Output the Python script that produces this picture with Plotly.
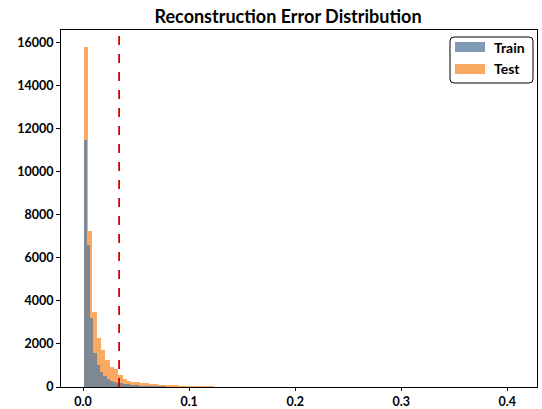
import plotly.graph_objects as go

# ---- data ----
test_bin_start = 0.0005
test_bin_width = 0.0041
test_counts = [15800, 7250, 3500, 2270, 1720, 1250, 950, 830, 560, 360,
               300, 230, 210, 200, 190, 150, 130, 110, 100, 90,
               80, 70, 60, 55, 50, 45, 40, 35, 30, 25,
               10, 8, 15, 4, 3, 2, 2, 1, 1, 1]

train_bin_start = 0.0005
train_bin_width = 0.0031
train_counts = [11500, 6600, 3200, 1600, 1000, 700, 500, 380, 300, 240,
                200, 170, 140, 120, 100, 85, 70, 60, 50, 45,
                40, 35, 30, 28, 25, 22, 20, 18, 16, 14,
                12, 10, 9, 8, 7, 6, 5, 5, 4, 4,
                3, 3, 2, 2, 2, 6, 1, 1, 1, 5]

threshold = 0.034
x_ticks = [0.0, 0.1, 0.2, 0.3, 0.4]
y_ticks = [0, 2000, 4000, 6000, 8000, 10000, 12000, 14000, 16000]
series_names = ["Train", "Test"]

def centers(start, width, n):
    return [start + width * (i + 0.5) for i in range(n)]

FONT = "Lato"
TRAIN_COLOR = "rgba(92,126,160,0.78)"
TEST_COLOR = "rgba(246,133,32,0.7)"

# plot area in pixels
L, R, T, B = 61, 537, 30, 387
W, H = 542, 409
def px(x):
    return (x - L) / (R - L)
def py(y):
    return (B - y) / (B - T)

fig = go.Figure()
fig.add_trace(go.Bar(
    x=centers(test_bin_start, test_bin_width, len(test_counts)),
    y=test_counts, width=test_bin_width, name=series_names[1],
    marker=dict(color=TEST_COLOR, line=dict(width=0)), showlegend=False,
))
fig.add_trace(go.Bar(
    x=centers(train_bin_start, train_bin_width, len(train_counts)),
    y=train_counts, width=train_bin_width, name=series_names[0],
    marker=dict(color=TRAIN_COLOR, line=dict(width=0)), showlegend=False,
))

fig.add_shape(type="line", xref="x", yref="paper", x0=threshold, x1=threshold,
              y0=0, y1=1, line=dict(color="#d40000", width=1.8, dash="dash"))

# legend drawn by hand (wide patches, rounded frame as in the reference)
bx0, bx1, by0, by1 = px(450), px(533), py(83), py(37)
r = 4
rx, ry = r / (R - L), r / (B - T)
path = (f"M {bx0+rx},{by0} L {bx1-rx},{by0} Q {bx1},{by0} {bx1},{by0+ry} "
        f"L {bx1},{by1-ry} Q {bx1},{by1} {bx1-rx},{by1} "
        f"L {bx0+rx},{by1} Q {bx0},{by1} {bx0},{by1-ry} "
        f"L {bx0},{by0+ry} Q {bx0},{by0} {bx0+rx},{by0} Z")
fig.add_shape(type="path", xref="paper", yref="paper", path=path,
              fillcolor="white", line=dict(color="black", width=1), layer="above")
for name, color, cy in [(series_names[0], TRAIN_COLOR, 47), (series_names[1], TEST_COLOR, 69)]:
    fig.add_shape(type="rect", xref="paper", yref="paper",
                  x0=px(455), x1=px(485), y0=py(cy + 5), y1=py(cy - 5),
                  fillcolor=color, line=dict(width=0), layer="above")
    fig.add_annotation(xref="paper", yref="paper", x=px(492), y=py(cy),
                       xanchor="left", yanchor="middle", showarrow=False,
                       text=f"<b>{name}</b>",
                       font=dict(family=FONT, size=14, color="black"))

fig.update_layout(
    width=W, height=H,
    barmode="overlay", bargap=0,
    plot_bgcolor="white", paper_bgcolor="white",
    margin=dict(l=L, r=W - R, t=T, b=H - B),
    font=dict(family=FONT, size=12, color="black"),
    showlegend=False,
    title=dict(text="<b>Reconstruction Error Distribution</b>", xref="paper", x=0.477,
               xanchor="center", y=1 - 17 / H, yanchor="middle",
               font=dict(family=FONT, size=18, color="black")),
)
fig.update_xaxes(range=[-0.0208, 0.428], tickvals=x_ticks,
                 ticktext=[f"<b>{v:.1f}</b>" for v in x_ticks],
                 ticks="outside", ticklen=3, tickcolor="black",
                 showline=True, linecolor="black", linewidth=1, mirror=True,
                 showgrid=False, zeroline=False, automargin=False,
                 tickfont=dict(family=FONT, size=12.5))
fig.update_yaxes(range=[0, 16590], tickvals=y_ticks,
                 ticktext=[f"<b>{v}</b>" for v in y_ticks],
                 ticks="outside", ticklen=4, tickcolor="black",
                 showline=True, linecolor="black", linewidth=1, mirror=True,
                 showgrid=False, zeroline=False, automargin=False,
                 tickfont=dict(family=FONT, size=12.5))

fig.write_html("out.html", config={"displayModeBar": False},
               post_script="document.body.style.margin='0';document.body.style.overflow='hidden';")
